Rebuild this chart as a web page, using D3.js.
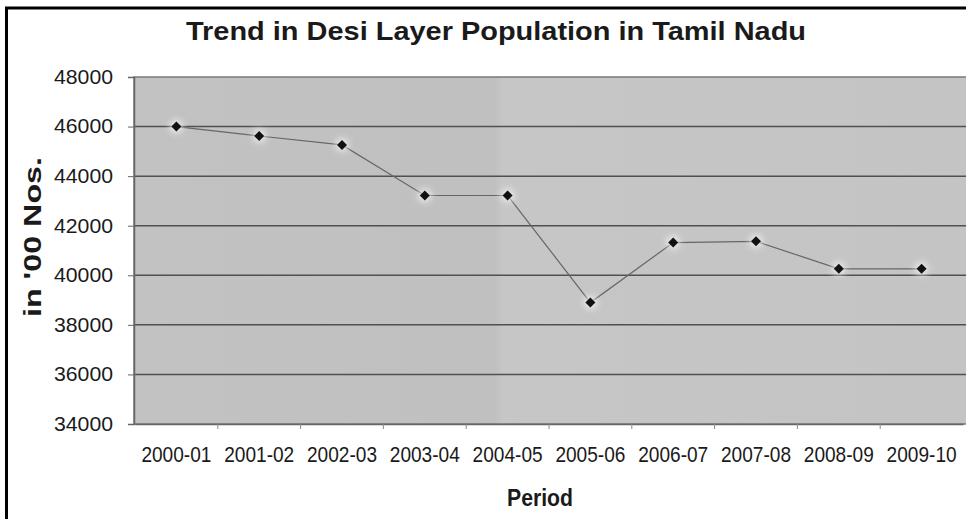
<!DOCTYPE html>
<html>
<head>
<meta charset="utf-8">
<script src="https://cdn.jsdelivr.net/npm/d3@7/dist/d3.min.js"></script>
<style>
  html, body { margin: 0; padding: 0; background: #fff; }
  svg { display: block; }
  text { font-family: "Liberation Sans", Arial, sans-serif; fill: #1a1a1a; }
</style>
</head>
<body>
<svg id="chart" width="966" height="519"></svg>
<script>
// Desi layer population in Tamil Nadu, in '00 numbers
const periods = ["2000-01", "2001-02", "2002-03", "2003-04", "2004-05",
                 "2005-06", "2006-07", "2007-08", "2008-09", "2009-10"];
const population = [46000, 45620, 45260, 43220, 43220,
                    38900, 41320, 41370, 40260, 40260];
const yTicks = [34000, 36000, 38000, 40000, 42000, 44000, 46000, 48000];

const svg = d3.select("#chart");
const W = 966, H = 519;
const plot = { left: 134, right: 963, top: 77, bottom: 424 };

const x = d3.scaleBand().domain(periods).range([plot.left + 1, plot.right]);
const y = d3.scaleLinear().domain([34000, 48000]).range([plot.bottom, plot.top]);

const defs = svg.append("defs");
const grad = defs.append("linearGradient").attr("id", "plotFill")
  .attr("x1", "0").attr("x2", "1").attr("y1", "0").attr("y2", "0");
grad.append("stop").attr("offset", "0").attr("stop-color", "#c2c2c2");
grad.append("stop").attr("offset", "0.43").attr("stop-color", "#c0c0c0");
grad.append("stop").attr("offset", "0.44").attr("stop-color", "#c6c6c6");
grad.append("stop").attr("offset", "1").attr("stop-color", "#c4c4c4");
const glow = defs.append("filter").attr("id", "glow")
  .attr("x", "-100%").attr("y", "-100%").attr("width", "300%").attr("height", "300%");
glow.append("feGaussianBlur").attr("stdDeviation", 3);

// outer frame
svg.append("rect").attr("x", 6.5).attr("y", 8).attr("width", W + 10).attr("height", H + 10)
  .attr("fill", "#fff").attr("stroke", "#000").attr("stroke-width", 3);

// plot area
svg.append("rect")
  .attr("x", plot.left).attr("y", plot.top)
  .attr("width", W - plot.left + 5).attr("height", plot.bottom - plot.top)
  .attr("fill", "url(#plotFill)").attr("stroke", "#7a7a7a").attr("stroke-width", 1.5);

// horizontal gridlines
svg.append("g").selectAll("line")
  .data(yTicks.filter(t => t > 34000 && t < 48000))
  .join("line")
  .attr("x1", plot.left).attr("x2", W + 5)
  .attr("y1", d => y(d)).attr("y2", d => y(d))
  .attr("stroke", "#505050").attr("stroke-width", 1.5);

// y axis
const yAxis = svg.append("g")
  .attr("transform", `translate(${plot.left},0)`)
  .call(d3.axisLeft(y).tickValues(yTicks).tickFormat(d3.format("d")).tickSize(6).tickPadding(15));
yAxis.select(".domain").attr("stroke", "#666").attr("stroke-width", 1.5);
yAxis.selectAll(".tick line").attr("stroke", "#666");
yAxis.selectAll(".tick text")
  .style("font-family", "'Liberation Sans', Arial, sans-serif")
  .style("font-size", "20px").attr("fill", "#1a1a1a")
  .attr("textLength", 59).attr("lengthAdjust", "spacingAndGlyphs");

// x axis
const xAxis = svg.append("g")
  .attr("transform", `translate(0,${plot.bottom})`)
  .call(d3.axisBottom(x).tickSize(0).tickPadding(22));
xAxis.select(".domain").attr("stroke", "#666").attr("stroke-width", 1.5);
xAxis.selectAll(".tick text")
  .style("font-family", "'Liberation Sans', Arial, sans-serif")
  .style("font-size", "22px").attr("fill", "#1a1a1a")
  .attr("textLength", 70).attr("lengthAdjust", "spacingAndGlyphs");
// category separator ticks
svg.append("g").selectAll("line")
  .data(periods.slice(1))
  .join("line")
  .attr("x1", d => x(d)).attr("x2", d => x(d))
  .attr("y1", plot.bottom).attr("y2", plot.bottom + 5)
  .attr("stroke", "#888");

// series line
const line = d3.line()
  .x((d, i) => x(periods[i]) + x.bandwidth() / 2)
  .y(d => y(d));
svg.append("path").datum(population)
  .attr("d", line).attr("fill", "none")
  .attr("stroke", "#666").attr("stroke-width", 1.2);

// markers with soft light halo
const pts = svg.append("g").selectAll("g")
  .data(population).join("g")
  .attr("transform", (d, i) => `translate(${x(periods[i]) + x.bandwidth() / 2},${y(d)})`);
pts.append("circle").attr("r", 7).attr("fill", "#f4f4f4").attr("opacity", 0.75)
  .attr("filter", "url(#glow)");
pts.append("path").attr("d", d3.symbol(d3.symbolDiamond2, 64)())
  .attr("fill", "#111");

// titles
svg.append("text")
  .attr("x", 496).attr("y", 40).attr("text-anchor", "middle")
  .style("font-size", "25px").style("font-weight", "bold")
  .attr("textLength", 620).attr("lengthAdjust", "spacingAndGlyphs")
  .text("Trend in Desi Layer Population in Tamil Nadu");

svg.append("text")
  .attr("x", 540).attr("y", 506).attr("text-anchor", "middle")
  .style("font-size", "24px").style("font-weight", "bold")
  .attr("textLength", 66).attr("lengthAdjust", "spacingAndGlyphs")
  .text("Period");

svg.append("text")
  .attr("transform", "translate(41,237) rotate(-90)")
  .attr("text-anchor", "middle")
  .style("font-size", "24px").style("font-weight", "bold")
  .attr("textLength", 160).attr("lengthAdjust", "spacingAndGlyphs")
  .text("in '00 Nos.");
</script>
</body>
</html>
